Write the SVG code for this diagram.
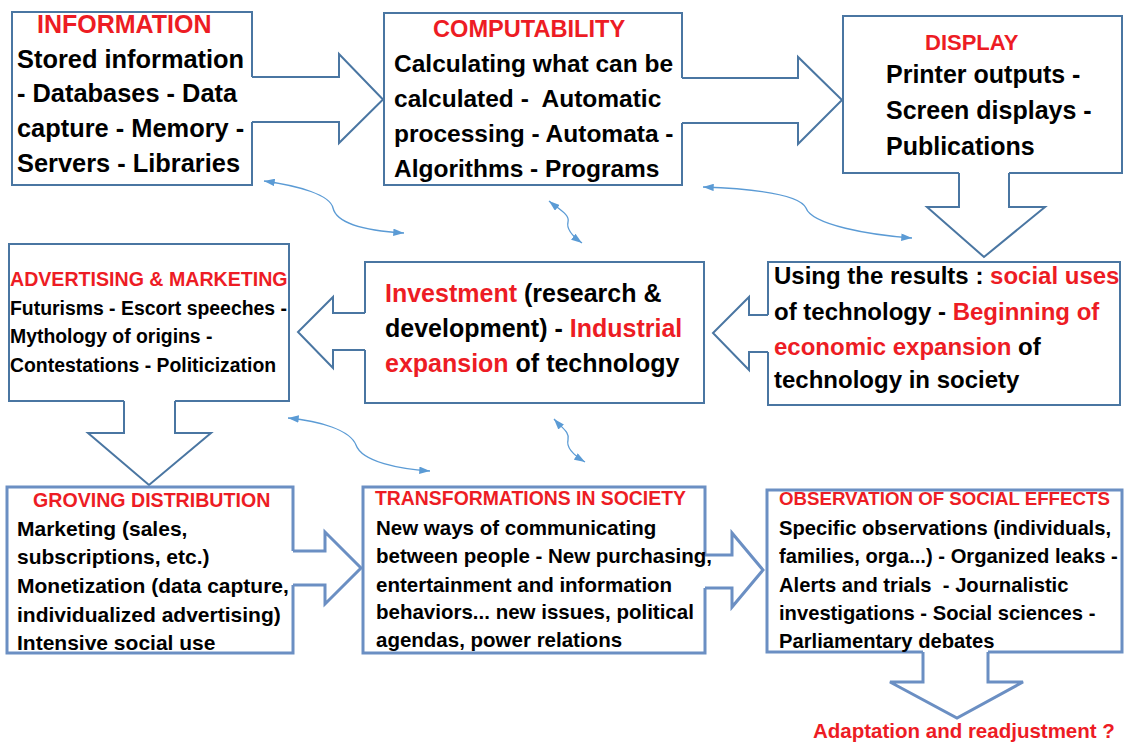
<svg xmlns="http://www.w3.org/2000/svg" width="1124" height="744" viewBox="0 0 1124 744">
<style>
text{font-family:"Liberation Sans",Arial,sans-serif;font-weight:bold;fill:#000;white-space:pre}
.r{fill:#ED1C24}
.f{fill:#fff;stroke:none}
.bt{fill:none;stroke:#4a76a2;stroke-width:2}
.bb{fill:none;stroke:#6b8fc3;stroke-width:3}
.at{fill:#fff;stroke:#4a76a2;stroke-width:2;stroke-linejoin:miter}
.ab{fill:#fff;stroke:#6b8fc3;stroke-width:3;stroke-linejoin:miter}
.c{fill:none;stroke:#5b9bd5;stroke-width:1.3;marker-start:url(#h);marker-end:url(#h)}
</style>
<defs>
<marker id="h" viewBox="0 0 10 7" refX="10" refY="3.5" markerWidth="11" markerHeight="7.5" markerUnits="userSpaceOnUse" orient="auto-start-reverse">
<path d="M0,0 L10,3.5 L0,7 z" fill="#5b9bd5"/>
</marker>
</defs>
<rect width="1124" height="744" fill="#fff"/>

<g id="connectors">
<path class="at" d="M252,77 L339,77 L339,54 L383,99.5 L339,143 L339,122 L252,122"/>
<path class="at" d="M682,78 L798,78 L798,57 L842,100 L798,144 L798,123 L682,123"/>
<path class="at" d="M959,173 L959,207 L927,207 L984,257 L1045,207 L1009,207 L1009,173"/>
<path class="at" d="M768,315 L749,315 L749,297 L713,333 L749,370 L749,352 L768,352"/>
<path class="at" d="M365,313 L333,313 L333,297 L298,332 L333,368 L333,350 L365,350"/>
<path class="at" d="M124,401 L124,433 L88,433 L149,485 L211,433 L175,433 L175,401"/>
<path class="ab" d="M293,551 L325,551 L325,532 L361,568 L325,604 L325,585 L293,585"/>
<path class="ab" d="M705,555 L732,555 L732,533 L763,570 L732,607 L732,588 L705,588"/>
<path class="ab" d="M923,652 L923,682 L890,682 L957,718 L1023,682 L988,682 L988,652"/>
<path class="c" d="M264,181 C300,186 330,195 333,208 C337,225 370,231 404,233"/>
<path class="c" d="M549,201 C560,210 570,215 568,222 C566,230 575,238 582,243"/>
<path class="c" d="M703,187 C760,189 800,195 806,208 C812,225 870,235 912,238"/>
<path class="c" d="M288,418 C320,421 350,430 356,445 C362,462 400,469 430,471"/>
<path class="c" d="M554,419 C562,428 570,432 568,440 C566,448 575,456 585,462"/>
</g>

<g id="information">
<rect class="f" x="12" y="12" width="240" height="173"/>
<path class="bt" d="M252,77 L252,12 L12,12 L12,185 L252,185 L252,122"/>
<text x="37" y="33" font-size="25" class="r">INFORMATION</text>
<text font-size="25.4"><tspan x="17" y="68">Stored information</tspan><tspan x="17" y="102">- Databases - Data</tspan><tspan x="17" y="137">capture - Memory -</tspan><tspan x="17" y="172">Servers - Libraries</tspan></text>
</g>

<g id="computability">
<rect class="f" x="384" y="13" width="298" height="172"/>
<path class="bt" d="M682,78 L682,13 L384,13 L384,185 L682,185 L682,123"/>
<text x="433" y="37" font-size="23.6" class="r">COMPUTABILITY</text>
<text font-size="24.5"><tspan x="394" y="72">Calculating what can be</tspan><tspan x="394" y="107">calculated -  Automatic</tspan><tspan x="394" y="142">processing - Automata -</tspan><tspan x="394" y="177">Algorithms - Programs</tspan></text>
</g>

<g id="display">
<rect class="f" x="843" y="16" width="279" height="157"/>
<path class="bt" d="M959,173 L843,173 L843,16 L1122,16 L1122,173 L1009,173"/>
<text x="925" y="50" font-size="22" class="r">DISPLAY</text>
<text font-size="25"><tspan x="886" y="83">Printer outputs -</tspan><tspan x="886" y="119">Screen displays -</tspan><tspan x="886" y="155">Publications</tspan></text>
</g>

<g id="using-results">
<rect class="f" x="768" y="262" width="352" height="143"/>
<path class="bt" d="M768,315 L768,262 L1120,262 L1120,405 L768,405 L768,352"/>
<text font-size="24"><tspan x="774" y="284">Using the results : <tspan class="r">social uses</tspan></tspan><tspan x="774" y="320">of technology - <tspan class="r">Beginning of</tspan></tspan><tspan x="774" y="355"><tspan class="r">economic expansion</tspan> of</tspan><tspan x="774" y="388">technology in society</tspan></text>
</g>

<g id="investment">
<rect class="f" x="365" y="262" width="339" height="141"/>
<path class="bt" d="M365,313 L365,262 L704,262 L704,403 L365,403 L365,350"/>
<text font-size="25"><tspan x="385" y="302"><tspan class="r">Investment</tspan> (research &amp;</tspan><tspan x="385" y="337">development) - <tspan class="r">Industrial</tspan></tspan><tspan x="385" y="372"><tspan class="r">expansion</tspan> of technology</tspan></text>
</g>

<g id="advertising">
<rect class="f" x="9" y="244" width="280" height="157"/>
<path class="bt" d="M124,401 L9,401 L9,244 L289,244 L289,401 L175,401"/>
<text x="10" y="286" font-size="19.6" class="r">ADVERTISING &amp; MARKETING</text>
<text font-size="19.4"><tspan x="10" y="315">Futurisms - Escort speeches -</tspan><tspan x="10" y="343">Mythology of origins -</tspan><tspan x="10" y="372">Contestations - Politicization</tspan></text>
</g>

<g id="groving-distribution">
<rect class="f" x="7" y="487" width="286" height="166"/>
<path class="bb" d="M293,551 L293,487 L7,487 L7,653 L293,653 L293,585"/>
<text x="33" y="507" font-size="19.6" class="r">GROVING DISTRIBUTION</text>
<text font-size="21"><tspan x="17" y="536">Marketing (sales,</tspan><tspan x="17" y="564">subscriptions, etc.)</tspan><tspan x="17" y="593">Monetization (data capture,</tspan><tspan x="17" y="622">individualized advertising)</tspan><tspan x="17" y="650">Intensive social use</tspan></text>
</g>

<g id="transformations">
<rect class="f" x="363" y="487" width="342" height="166"/>
<path class="bb" d="M705,555 L705,487 L363,487 L363,653 L705,653 L705,588"/>
<text x="375" y="505" font-size="19.4" class="r">TRANSFORMATIONS IN SOCIETY</text>
<text font-size="20.5"><tspan x="376" y="535">New ways of communicating</tspan><tspan x="376" y="563">between people - New purchasing,</tspan><tspan x="376" y="592">entertainment and information</tspan><tspan x="376" y="619">behaviors... new issues, political</tspan><tspan x="376" y="647">agendas, power relations</tspan></text>
</g>

<g id="observation">
<rect class="f" x="767" y="490" width="355" height="162"/>
<path class="bb" d="M923,652 L767,652 L767,490 L1122,490 L1122,652 L988,652"/>
<text x="779" y="505" font-size="18.7" class="r">OBSERVATION OF SOCIAL EFFECTS</text>
<text font-size="20.2"><tspan x="779" y="535">Specific observations (individuals,</tspan><tspan x="779" y="563">families, orga...) - Organized leaks -</tspan><tspan x="779" y="592">Alerts and trials  - Journalistic</tspan><tspan x="779" y="620">investigations - Social sciences -</tspan><tspan x="779" y="648">Parliamentary debates</tspan></text>
</g>

<g id="adaptation">
<text x="813" y="738" font-size="20.5" class="r">Adaptation and readjustment ?</text>
</g>
</svg>
